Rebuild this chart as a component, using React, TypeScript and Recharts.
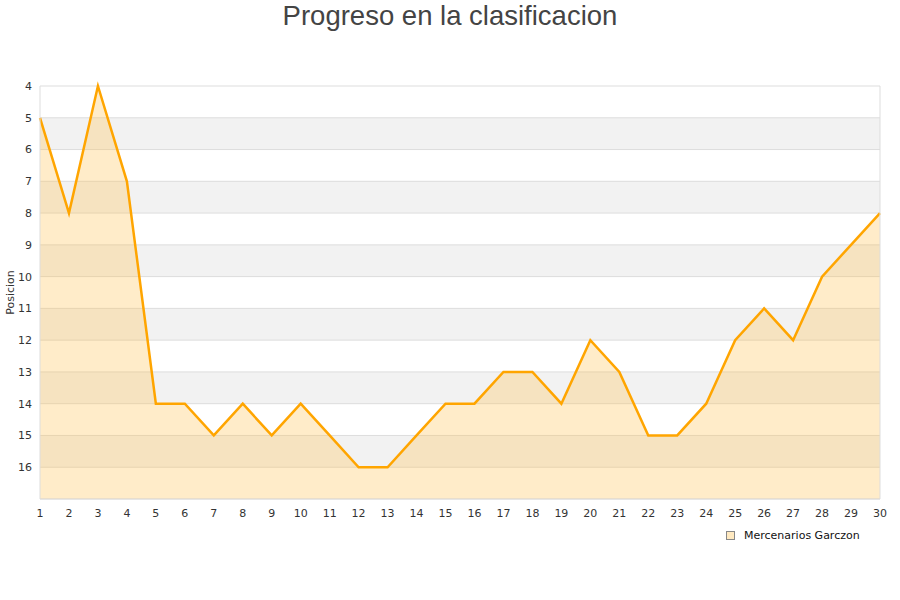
import { AreaChart, Area, XAxis, YAxis, CartesianGrid, ReferenceLine } from 'recharts';

const rounds = [1, 2, 3, 4, 5, 6, 7, 8, 9, 10, 11, 12, 13, 14, 15, 16, 17, 18, 19, 20, 21, 22, 23, 24, 25, 26, 27, 28, 29, 30];
const positions = [5, 8, 4, 7, 14, 14, 15, 14, 15, 14, 15, 16, 16, 15, 14, 14, 13, 13, 14, 12, 13, 15, 15, 14, 12, 11, 12, 10, 9, 8];
const yTicks = [4, 5, 6, 7, 8, 9, 10, 11, 12, 13, 14, 15, 16];
const teamName = 'Mercenarios Garczon';

const chartData = rounds.map((r, i) => ({ round: r, pos: positions[i] }));

const tickStyle = { fontSize: 11, fill: '#333', fontFamily: 'DejaVu Sans, sans-serif' };

export default function App() {
    return (
        <div style={{ position: 'absolute', left: 0, top: 0, width: 900, height: 600, background: '#fff' }}>
            <div
                style={{
                    position: 'absolute',
                    top: 0,
                    width: 900,
                    textAlign: 'center',
                    fontFamily: 'Liberation Sans, Arial, sans-serif',
                    fontSize: 27.5,
                    color: '#444',
                    lineHeight: '31px',
                }}
            >
                Progreso en la clasificacion
            </div>
            <AreaChart width={900} height={600} data={chartData} margin={{ top: 86, right: 20, left: 10, bottom: 71 }}>
                <CartesianGrid vertical={false} stroke="#dddddd" horizontalFill={['#ffffff', '#f2f2f2']} />
                <XAxis
                    dataKey="round"
                    tick={tickStyle}
                    tickLine={false}
                    tickMargin={4}
                    axisLine={{ stroke: '#dddddd' }}
                    interval={0}
                    height={30}
                />
                <YAxis
                    reversed
                    type="number"
                    domain={[4, 17]}
                    ticks={yTicks}
                    interval={0}
                    width={30}
                    tick={tickStyle}
                    tickLine={false}
                    axisLine={{ stroke: '#dddddd' }}
                    label={{
                        value: 'Posicion',
                        angle: -90,
                        position: 'insideLeft',
                        offset: 0,
                        style: { fontSize: 11, fill: '#333', fontFamily: 'DejaVu Sans, sans-serif', textAnchor: 'middle' },
                    }}
                />
                <ReferenceLine x={rounds[rounds.length - 1]} stroke="#dddddd" />
                <Area
                    type="linear"
                    dataKey="pos"
                    baseValue={17}
                    stroke="#ffa500"
                    strokeWidth={2.5}
                    fill="#ffc04d"
                    fillOpacity={0.3}
                    dot={false}
                    activeDot={false}
                    isAnimationActive={false}
                />
            </AreaChart>
            <div
                style={{
                    position: 'absolute',
                    left: 726,
                    top: 529,
                    display: 'flex',
                    alignItems: 'center',
                    fontFamily: 'DejaVu Sans, sans-serif',
                    fontSize: 11,
                    color: '#111',
                }}
            >
                <span style={{ width: 7, height: 7, border: '1px solid #888', background: '#ffe9c0', marginRight: 9, display: 'inline-block' }} />
                {teamName}
            </div>
        </div>
    );
}
